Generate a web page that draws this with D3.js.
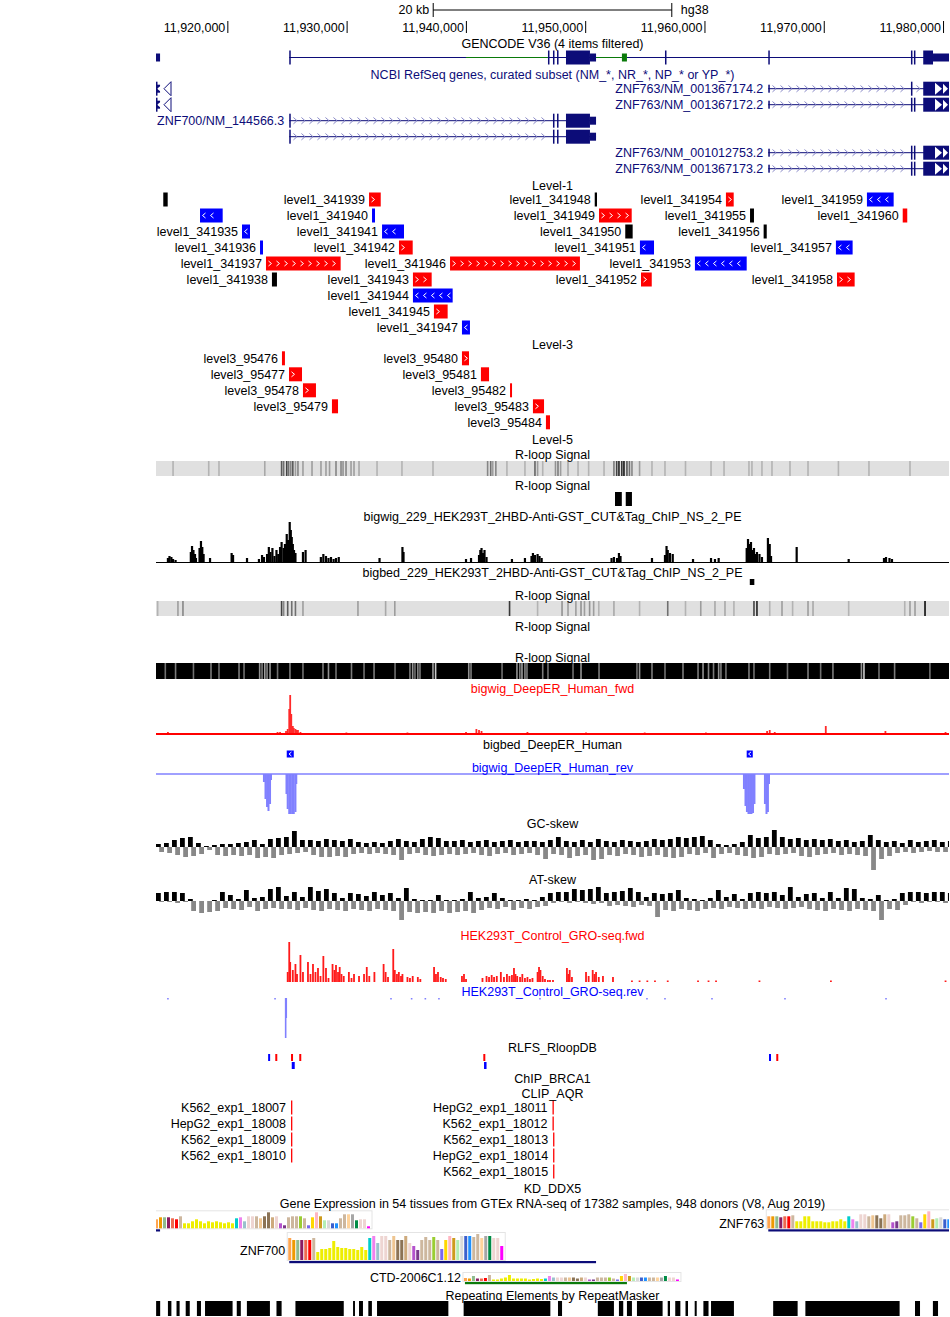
<!DOCTYPE html>
<html><head><meta charset="utf-8">
<script src="https://cdn.jsdelivr.net/npm/d3@7"></script>
<style>
body{margin:0;background:#fff}
text{font-family:"Liberation Sans",Arial,Helvetica,sans-serif;font-size:12.5px}
</style></head>
<body>
<script>
// ================= DATA (genomic positions in kb on chr19, hg38) =================
const windowKb = [11914.02, 11980.50];
const tickKb = [11920, 11930, 11940, 11950, 11960, 11970, 11980];
const scaleBarKb = 20;
const assembly = "hg38";

const trackTitles = [
 "GENCODE V36 (4 items filtered)",
 "NCBI RefSeq genes, curated subset (NM_*, NR_*, NP_* or YP_*)",
 "Level-1","Level-3","Level-5","R-loop Signal","R-loop Signal",
 "bigwig_229_HEK293T_2HBD-Anti-GST_CUT&Tag_ChIP_NS_2_PE",
 "bigbed_229_HEK293T_2HBD-Anti-GST_CUT&Tag_ChIP_NS_2_PE",
 "R-loop Signal","R-loop Signal","R-loop Signal",
 "bigwig_DeepER_Human_fwd","bigbed_DeepER_Human","bigwig_DeepER_Human_rev",
 "GC-skew","AT-skew","HEK293T_Control_GRO-seq.fwd","HEK293T_Control_GRO-seq.rev",
 "RLFS_RloopDB","ChIP_BRCA1","CLIP_AQR","KD_DDX5",
 "Gene Expression in 54 tissues from GTEx RNA-seq of 17382 samples, 948 donors (V8, Aug 2019)",
 "Repeating Elements by RepeatMasker"];
const trackTitleKind = ["black","navy","black","black","black","black","black","black","black","black","black","black",
 "red","black","blue","black","black","red","blue","black","black","black","black","black","black"];

// GENCODE (dense): intron segments and exon blocks
const gencodeLines = [[11925.19,11940.01,"coding"],[11940.01,11946.88,"noncoding"],[11946.88,11950.91,"coding"],
 [11950.91,11953.08,"noncoding"],[11953.50,11980.50,"coding"]];
const gencodeExons = [[11914.02,11914.36,"utr","coding"],[11925.19,11925.25,"cds","coding"],[11946.88,11946.94,"cds","coding"],
 [11947.30,11947.36,"cds","coding"],[11947.64,11947.70,"cds","coding"],[11948.39,11950.40,"cds","coding"],
 [11950.40,11950.91,"utr","coding"],[11953.08,11953.50,"utr","noncoding"],[11956.69,11956.75,"cds","coding"],
 [11965.35,11965.41,"cds","coding"],[11977.31,11977.37,"cds","coding"],[11977.56,11977.62,"cds","coding"],
 [11978.34,11979.16,"cds","coding"],[11979.16,11980.50,"utr","coding"]];

// RefSeq transcripts: name, lane, txStart, txEnd, exons
const refseqTx = [
 {name:"ZNF69/NM_021915.4", lane:0, txStart:11913.80, txEnd:11914.36, exons:[[11913.80,11914.36,"utr"]]},
 {name:"ZNF69/NM_001320016.2", lane:1, txStart:11913.80, txEnd:11914.36, exons:[[11913.80,11914.36,"utr"]]},
 {name:"ZNF763/NM_001367174.2", lane:0, txStart:11965.35, txEnd:11982.00, exons:[[11965.35,11965.41,"utr"],[11977.31,11977.37,"cds"],[11978.34,11982.00,"cds"]]},
 {name:"ZNF763/NM_001367172.2", lane:1, txStart:11965.35, txEnd:11982.00, exons:[[11965.35,11965.41,"utr"],[11977.31,11977.37,"cds"],[11977.56,11977.62,"cds"],[11978.34,11982.00,"cds"]]},
 {name:"ZNF700/NM_144566.3", lane:2, txStart:11925.19, txEnd:11950.91, exons:[[11925.19,11925.25,"cds"],[11947.30,11947.36,"cds"],[11947.64,11947.70,"cds"],[11948.39,11950.40,"cds"],[11950.40,11950.91,"utr"]]},
 {name:"ZNF700/NM_001271848.2", lane:3, txStart:11925.19, txEnd:11950.91, hideLabel:true, exons:[[11925.19,11925.25,"cds"],[11947.30,11947.36,"cds"],[11947.64,11947.70,"cds"],[11948.39,11950.40,"cds"],[11950.40,11950.91,"utr"]]},
 {name:"ZNF763/NM_001012753.2", lane:4, txStart:11965.35, txEnd:11982.00, exons:[[11965.35,11965.41,"utr"],[11977.31,11977.37,"cds"],[11977.56,11977.62,"cds"],[11978.34,11982.00,"cds"]]},
 {name:"ZNF763/NM_001367173.2", lane:5, txStart:11965.35, txEnd:11982.00, exons:[[11965.35,11965.41,"utr"],[11977.31,11977.37,"cds"],[11977.56,11977.62,"cds"],[11978.34,11982.00,"cds"]]}
];

// Level-1 items: name, start, end, strand, lane
const level1 = [
 ["level1_341933",11914.63,11915.00,".",0],["level1_341939",11931.88,11932.86,"+",0],["level1_341948",11950.80,11950.99,".",0],
 ["level1_341954",11961.80,11962.45,"+",0],["level1_341959",11973.62,11975.86,"-",0],
 ["level1_341934",11917.71,11919.61,"-",1],["level1_341940",11932.13,11932.38,"-",1],["level1_341949",11951.16,11953.90,"+",1],
 ["level1_341955",11963.82,11964.15,".",1],["level1_341960",11976.62,11977.00,"+",1],
 ["level1_341935",11921.23,11921.90,"-",2],["level1_341941",11932.97,11934.81,"-",2],["level1_341950",11953.36,11953.98,".",2],
 ["level1_341956",11964.96,11965.22,".",2],
 ["level1_341936",11922.74,11922.99,"-",3],["level1_341942",11934.39,11935.54,"+",3],["level1_341951",11954.59,11955.77,"-",3],
 ["level1_341957",11971.02,11972.42,"-",3],
 ["level1_341937",11923.24,11929.50,"+",4],["level1_341946",11938.67,11949.56,"+",4],["level1_341953",11959.20,11963.54,"-",4],
 ["level1_341938",11923.74,11924.16,".",5],["level1_341943",11935.56,11937.13,"+",5],["level1_341952",11954.68,11955.58,"+",5],
 ["level1_341958",11971.11,11972.59,"+",5],
 ["level1_341944",11935.56,11938.89,"-",6],["level1_341945",11937.32,11938.47,"+",7],["level1_341947",11939.67,11940.34,"-",8]];

// Level-3 items
const level3 = [
 ["level3_95476",11924.58,11924.83,".",0],["level3_95480",11939.67,11940.26,"+",0],
 ["level3_95477",11925.17,11926.26,"+",1],["level3_95481",11941.26,11941.94,".",1],
 ["level3_95478",11926.34,11927.43,"+",2],["level3_95482",11943.70,11943.86,".",2],
 ["level3_95479",11928.77,11929.28,".",3],["level3_95483",11945.62,11946.55,"+",3],
 ["level3_95484",11946.71,11947.05,".",4]];

// R-loop signal heatmaps: [position kb, signal 0..1]
const rloopHeat1 = [[11915.45,.2],[11918.44,.2],[11919.30,.2],[11923.14,.25],[11924.55,.6],[11924.72,.5],[11924.98,.7],[11925.14,.5],
 [11925.32,.4],[11925.49,.6],[11925.71,.3],[11925.92,.4],[11926.34,.3],[11927.10,.3],[11927.85,.3],[11928.27,.3],[11928.57,.3],
 [11929.11,.4],[11929.53,.4],[11929.70,.35],[11929.95,.4],[11930.37,.3],[11930.62,.3],[11931.04,.25],[11932.55,.2],[11934.64,.2],
 [11937.24,.2],[11941.82,.4],[11942.08,.5],[11942.25,.3],[11942.51,.4],[11943.44,.2],[11944.95,.2],[11945.79,.55],[11946.01,.3],
 [11946.44,.2],[11947.51,.35],[11947.72,.45],[11947.94,.3],[11948.56,.25],[11949.40,.2],[11950.29,.2],[11951.58,.2],[11952.41,.45],
 [11952.64,.7],[11952.83,.85],[11953.07,.75],[11953.25,.9],[11953.50,.6],[11953.71,.5],[11953.92,.4],[11954.56,.3],[11955.60,.2],
 [11956.69,.2],[11958.41,.2],[11960.55,.2],[11961.64,.2],[11963.73,.2],[11963.98,.2],[11964.82,.2],[11965.66,.2],[11967.17,.2],
 [11968.68,.2],[11971.23,.2],[11973.79,.2],[11977.23,.2]];
const rloopPeaks2 = [[11952.50,11953.07],[11953.40,11953.92]];
const rloopHeat2 = [[11914.16,.2],[11915.86,.3],[11916.28,.4],[11924.55,.7],[11924.72,.4],[11925.06,.6],[11925.40,.5],[11925.71,.5],
 [11926.34,.3],[11930.95,.3],[11933.27,.25],[11934.04,.3],[11943.66,.75],[11946.01,.2],[11948.06,.35],[11948.56,.3],[11949.22,.3],
 [11949.65,.35],[11949.94,.3],[11950.37,.35],[11950.71,.3],[11951.14,.2],[11952.41,.25],[11954.56,.2],[11956.92,.5],[11958.41,.2],
 [11959.69,.3],[11960.88,.25],[11961.72,.25],[11962.47,.2],[11964.15,.7],[11964.40,.85],[11965.47,.2],[11966.50,.3],[11967.39,.2],
 [11968.68,.3],[11969.10,.25],[11972.09,.2],[11976.79,.2],[11977.23,.3],[11977.65,.3],[11978.49,.95]];
const rloopHeat3 = [[11914.80,.5],[11915.66,.45],[11917.16,.5],[11918.63,.45],[11919.30,.5],[11920.98,.45],[11921.40,.5],[11922.71,.35],
 [11922.91,.45],[11923.14,.3],[11923.33,.4],[11923.58,.35],[11924.21,.5],[11925.25,.45],[11926.34,.5],[11928.02,.45],[11928.48,.35],
 [11929.11,.5],[11930.41,.45],[11931.46,.5],[11932.30,.45],[11934.06,.5],[11935.31,.45],[11935.54,.35],[11935.73,.5],[11935.97,.4],
 [11936.15,.45],[11937.24,.3],[11937.46,.1],[11940.24,.35],[11940.43,.45],[11943.03,.5],[11944.28,.35],[11944.52,.45],[11944.70,.3],
 [11944.95,.4],[11945.12,.45],[11946.44,.45],[11946.88,.5],[11948.98,.5],[11949.65,.35],[11951.16,.45],[11954.34,.5],[11954.56,.35],
 [11955.60,.45],[11956.69,.5],[11958.20,.45],[11959.46,.45],[11959.88,.35],[11960.34,.4],[11960.76,.45],[11961.19,.35],[11961.38,.45],
 [11961.80,.5],[11963.73,.45],[11964.15,.5],[11965.47,.45],[11966.96,.5],[11968.68,.45],[11969.74,.5],[11970.77,.45],[11973.16,.35],
 [11973.37,.1],[11974.63,.5],[11975.94,.45],[11978.90,.5]];

// bigwig_229 CUT&Tag signal [kb, value]
const cutTagSignal = [[11915.02,4],[11915.15,6],[11915.31,5],[11915.45,3],[11915.66,2],[11916.94,10],[11917.04,16],[11917.16,12],
 [11917.29,8],[11917.37,4],[11917.67,14],[11917.79,21],[11917.90,15],[11918.01,8],[11918.55,4],[11920.36,9],[11920.48,7],[11921.65,4],
 [11922.65,3],[11922.91,7],[11923.07,5],[11923.33,8],[11923.48,15],[11923.62,10],[11923.78,14],[11923.95,6],[11924.12,12],[11924.27,8],
 [11924.42,15],[11924.55,20],[11924.72,14],[11924.83,18],[11924.98,28],[11925.09,22],[11925.23,40],[11925.32,32],[11925.40,25],
 [11925.49,18],[11925.59,12],[11925.71,9],[11926.34,10],[11926.56,12],[11927.84,5],[11928.05,8],[11928.27,6],[11928.48,4],[11928.69,5],
 [11928.91,3],[11929.11,4],[11929.34,5],[11932.76,4],[11934.68,15],[11934.77,10],[11940.01,3],[11940.43,4],[11941.10,7],[11941.21,12],
 [11941.31,14],[11941.43,9],[11941.56,12],[11941.73,5],[11943.86,3],[11944.95,4],[11945.50,6],[11945.62,9],[11945.79,7],[11946.01,8],
 [11946.17,6],[11946.35,4],[11952.21,4],[11952.41,5],[11952.67,4],[11952.83,9],[11952.96,6],[11955.60,4],[11956.69,7],[11956.82,16],
 [11956.92,12],[11957.11,9],[11957.34,8],[11959.04,3],[11960.55,4],[11960.88,3],[11961.19,4],[11963.54,14],[11963.65,23],[11963.77,18],
 [11963.90,20],[11964.02,12],[11964.15,14],[11964.28,8],[11964.40,10],[11964.61,8],[11964.82,5],[11965.32,24],[11965.47,18],
 [11965.58,6],[11967.73,15],[11972.09,3],[11975.05,4],[11975.22,5],[11975.51,4],[11975.72,3]];
const cutTagPeaks = [[11963.80,11964.18]];

// DeepER
const deepErFwd = [[11915.02,2],[11919.93,1],[11924.21,2],[11924.42,2],[11924.92,3],[11925.06,5],[11925.19,25],[11925.27,39],
 [11925.36,20],[11925.49,8],[11925.57,6],[11925.71,5],[11925.82,4],[11925.92,4],[11926.13,2],[11929.98,1.5],[11935.10,1.5],
 [11940.01,2],[11940.88,5],[11941.10,4],[11941.31,3],[11945.16,2],[11950.07,1.5],[11954.99,1.5],[11960.12,1.5],[11965.25,3],
 [11965.47,4],[11965.89,2],[11970.17,8],[11975.17,3],[11980.21,2]];
const deepErBed = [[11924.98,11925.57,"-"],[11963.54,11964.05,"-"]];
const deepErRev = [[11923.07,8],[11923.20,25],[11923.33,33],[11923.45,37],[11923.58,30],[11923.66,6],[11924.96,20],[11925.06,35],
 [11925.19,40],[11925.32,40],[11925.45,40],[11925.57,40],[11925.71,38],[11925.78,10],[11963.31,15],[11963.44,32],[11963.56,38],
 [11963.69,40],[11963.82,40],[11963.94,40],[11964.07,39],[11964.19,30],[11965.07,30],[11965.20,40],[11965.32,38],[11965.41,10]];

// GC / AT skew, fixed step bins
const skewStartKb = 11914.02, skewStepKb = 0.6706;
const gcUp = [3,4,7,9,10,4,1,2,3,3, 4,5,7,3,8,9,10,16,7,7, 6,8,7,6,8,5,4,5,4,6, 8,6,5,8,10,9,6,6,7,5,
 6,7,5,6,7,5,6,6,5,7, 10,6,5,7,5,8,6,5,7,6, 5,6,8,7,8,10,9,10,11,7, 3,2,3,5,12,9,10,17,10,8,
 9,7,8,7,8,6,7,5,6,12, 7,5,6,4,7,5,6,7,5,6];
const gcDown = [5,6,8,10,9,7,3,8,9,8, 9,8,11,10,11,8,7,6,5,8, 10,10,9,10,7,6,7,6,7,8, 13,7,6,8,9,8,7,8,7,6,
 8,9,7,6,8,7,6,8,12,7, 8,11,9,8,13,12,8,9,7,8, 10,9,8,10,11,10,7,8,6,11, 7,6,8,9,11,10,7,8,7,6,
 9,10,8,7,6,8,7,8,9,23, 12,9,6,5,6,5,4,5,5,4];
const atUp = [8,9,9,8,2,0,0,1,9,6, 2,11,3,4,12,14,5,9,4,14, 10,12,8,3,8,7,5,9,6,8, 3,13,2,1,1,6,1,1,2,9,
 3,4,8,3,1,1,2,1,4,8, 9,9,12,11,12,14,8,9,10,13, 9,4,8,7,8,11,3,2,1,3, 11,4,7,2,8,9,8,9,6,14,
 4,7,8,3,9,3,13,12,3,2, 6,1,2,8,9,9,8,9,9,8];
const atDown = [1,1,2,1,10,12,11,10,7,8, 9,6,10,8,7,8,8,9,7,9, 10,8,9,10,8,9,10,8,9,10, 19,11,12,11,12,10,12,11,10,12,
 9,7,8,6,9,7,8,6,5,2, 1,2,1,2,3,2,5,4,5,6, 4,5,16,9,10,8,9,10,8,7, 8,6,7,8,7,8,6,7,8,7,
 6,8,9,10,8,9,10,8,9,10, 19,8,9,4,1,2,1,1,2,1];

// GRO-seq
const groFwd = [[11925.06,10],[11925.19,40],[11925.27,20],[11925.49,12],[11925.71,18],[11925.84,8],[11926.13,27],[11926.34,10],
 [11926.76,20],[11926.97,8],[11927.18,18],[11927.39,10],[11927.60,14],[11927.81,6],[11928.05,26],[11928.27,14],[11928.48,4],
 [11928.82,18],[11928.98,12],[11929.11,17],[11929.28,10],[11929.42,15],[11929.57,8],[11929.76,6],[11930.19,10],[11930.41,4],
 [11930.62,8],[11931.04,6],[11931.46,8],[11931.69,15],[11931.90,6],[11932.33,10],[11933.10,18],[11933.27,10],[11933.47,5],
 [11933.91,33],[11934.04,12],[11934.22,8],[11934.38,10],[11934.56,6],[11934.68,8],[11935.10,5],[11935.31,4],[11935.54,6],
 [11935.97,5],[11936.18,3],[11937.33,15],[11937.49,8],[11937.66,10],[11937.89,5],[11938.08,4],[11938.31,3],[11939.67,6],
 [11939.84,8],[11940.01,3],[11941.39,4],[11941.73,6],[11941.94,5],[11942.16,7],[11942.36,5],[11942.59,6],[11942.93,10],
 [11943.19,5],[11943.44,8],[11943.65,6],[11943.86,7],[11944.03,14],[11944.16,8],[11944.30,6],[11944.54,5],[11944.73,8],
 [11944.95,4],[11945.16,5],[11945.37,3],[11945.58,4],[11946.01,10],[11946.13,15],[11946.25,12],[11946.44,6],[11946.63,3],
 [11946.87,2],[11947.05,2],[11947.30,2],[11948.47,14],[11948.60,8],[11948.70,12],[11948.89,5],[11950.07,10],[11950.29,6],
 [11950.63,12],[11950.78,8],[11950.91,10],[11951.14,5],[11951.49,6],[11952.33,5],[11953.92,1.5],[11954.56,1.5],[11955.21,1.5],
 [11955.85,1.5],[11956.92,1.5],[11959.46,1.5],[11960.34,1.5],[11960.97,1.5],[11964.61,1.5],[11970.60,1.5],[11980.21,1.5]];
const groRev = [[11915.02,1.5],[11924.00,1.5],[11924.89,40],[11924.94,20],[11933.72,1.5],[11935.45,1.5],[11936.60,1.5],
 [11937.74,1.5],[11946.21,1.5],[11955.18,1.5],[11956.69,1.5],[11960.63,1.5],[11966.75,1.5],[11975.22,1.5]];

// RLFS (R-loop forming sequences): start, end, strand, lane
const rlfs = [[11923.42,11923.56,"-",0],[11924.02,11924.16,"+",0],[11925.34,11925.48,"+",0],[11926.03,11926.17,"+",0],
 [11941.46,11941.60,"+",0],[11965.41,11965.55,"-",0],[11966.02,11966.16,"+",0],
 [11925.40,11925.65,"-",1],[11941.52,11941.73,"-",1]];

// CLIP_AQR: name, start, end, lane
const clipAqr = [["K562_exp1_18007",11925.34,11925.37,0],["HepG2_exp1_18008",11925.34,11925.37,1],
 ["K562_exp1_18009",11925.34,11925.37,2],["K562_exp1_18010",11925.34,11925.37,3],
 ["HepG2_exp1_18011",11947.26,11947.29,0],["K562_exp1_18012",11947.26,11947.29,1],
 ["K562_exp1_18013",11947.31,11947.34,2],["HepG2_exp1_18014",11947.31,11947.34,3],["K562_exp1_18015",11947.31,11947.34,4]];

// GTEx
const gtexTissues = ["Adipose Subcutaneous","Adipose Visceral","Adrenal Gland","Artery Aorta","Artery Coronary","Artery Tibial","Bladder",
 "Brain Amygdala","Brain Anterior cingulate","Brain Caudate","Brain Cerebellar Hemisphere","Brain Cerebellum","Brain Cortex",
 "Brain Frontal Cortex","Brain Hippocampus","Brain Hypothalamus","Brain Nucleus accumbens","Brain Putamen","Brain Spinal cord",
 "Brain Substantia nigra","Breast","Cells EBV lymphocytes","Cells Fibroblasts","Cervix Ectocervix","Cervix Endocervix","Colon Sigmoid",
 "Colon Transverse","Esophagus GE Junction","Esophagus Mucosa","Esophagus Muscularis","Fallopian Tube","Heart Atrial Appendage",
 "Heart Left Ventricle","Kidney Cortex","Kidney Medulla","Liver","Lung","Minor Salivary Gland","Muscle Skeletal","Nerve Tibial","Ovary",
 "Pancreas","Pituitary","Prostate","Skin Not Sun Exposed","Skin Sun Exposed","Small Intestine","Spleen","Stomach","Testis","Thyroid",
 "Uterus","Vagina","Whole Blood"];
const gtexColors = ["#FFA54F","#EE9A00","#8FBC8F","#8B1C62","#EE6A50","#FF0000","#CDB79E",
 "#EEEE00","#EEEE00","#EEEE00","#EEEE00","#EEEE00","#EEEE00","#EEEE00","#EEEE00","#EEEE00","#EEEE00","#EEEE00","#EEEE00","#EEEE00",
 "#00CDCD","#EE82EE","#9AC0CD","#EED5D2","#EED5D2","#CDB79E","#EEC591","#8B7355","#8B7355","#CDAA7D","#EED5D2","#B452CD","#7A378B",
 "#CDB79E","#CDB79E","#CDB79E","#9ACD32","#CDB79E","#7A67EE","#FFD700","#FFB6C1","#CD9B1D","#B4EEB4","#D9D9D9","#3A5FCD","#1E90FF",
 "#CDB79E","#CDB79E","#FFD39B","#A6A6A6","#008B45","#EED5D2","#EED5D2","#FF00FF"];
const gtexZNF69 = [9,11,11,11,10,9,12, 5,5,7,9,7,5,7,6,7,6,5,6,5, 10,11,7, 12,12, 12,10,12,16,11,12, 5,3, 11,12,12, 12,10, 3,11,16,
 12,8,8, 5,5, 10,14,14,14, 8,9,9,2];
const gtexZNF700 = [22,20,20,20,20,20,22, 8,11,11,12,19,13,12,12,11,11,10,13,10, 22,24,17, 24,24, 20,24,20,20,24,17, 14,10, 20,23,20,
 23,20, 11,20,24, 22,20,24, 24,24, 23,26,22,24, 24,22,22,14];
const gtexZNF763 = [12,12,12,11,12,12,13, 7,7,12,12,7,7,7,6,6,7,7,9,7, 12,9,7, 14,14, 12,13,13,10,14,14, 6,7, 13,13,14, 12,10, 6,14,17,
 9,10,11, 9,9, 12,14,12,10, 11,12,12,4];
const gtexCTD = [3,2.5,5,2.5,2.5,3,6, 1.5,1.5,2.5,3.5,6,2.5,2.5,2.5,2.5,1.5,2,2.5,2, 2.5,5,3.5, 3.5,3.5, 3.5,3.5,3.5,2.5,3.5,3.5,
 1.5,1.5, 3.5,3.5,3.5, 3.5,2.5, 1.5,5,7, 5,3.5,3.5, 3.5,3.5, 3.5,3.5,3.5,3.5, 5,3.5,3.5,1.5];
const gtexGenes = [
 {name:"ZNF69", geneStart:11913.80, geneEnd:11914.36, type:"coding", values:gtexZNF69, lane:0, hideLabel:true},
 {name:"ZNF763", geneStart:11965.35, geneEnd:11982.00, type:"coding", values:gtexZNF763, lane:0},
 {name:"ZNF700", geneStart:11925.19, geneEnd:11950.91, type:"coding", values:gtexZNF700, lane:1},
 {name:"CTD-2006C1.12", geneStart:11939.92, geneEnd:11953.50, type:"noncoding", values:gtexCTD, lane:2}];

// RepeatMasker elements [start, end]
const repeats = [[11914.03,11914.37],[11915.02,11915.31],[11915.74,11916.00],[11916.51,11916.85],[11917.45,11917.79],
 [11918.13,11920.44],[11920.79,11921.13],[11921.64,11923.57],[11924.12,11924.55],[11925.71,11929.76],[11930.54,11930.70],
 [11931.04,11931.37],[11931.82,11932.12],[11932.55,11938.53],[11939.81,11947.08],[11947.72,11948.06],[11951.06,11952.41],
 [11952.83,11953.19],[11953.50,11953.92],[11954.34,11956.49],[11956.92,11957.11],[11957.55,11957.98],[11958.41,11958.62],
 [11959.18,11959.35],[11959.91,11960.34],[11960.55,11962.47],[11965.76,11967.81],[11968.46,11976.36],[11977.65,11978.07],
 [11979.15,11979.58]];

// ================= DRAWING =================
const W = 950, H = 1317, X0 = 156, X1 = 949, MID = (X0 + X1) / 2;
const COL = {black:"#000", navy:"#0c0c78", red:"#ff0000", blue:"#0000ff", green:"#0a7a0a",
 lightNavy:"#8a8ac8", revBlue:"#8080ff", gray:"#888888"};
const L = { // layout (pixels)
 rulerY:10, tickTop:21, tickBot:33, tickLabelY:27, gencodeY:57.5, refseqY0:88.7, rowH:16,
 level1Y0:199.5, level3Y0:358.3, heat1:[461,476], rloop2:[492,506], cutBase:562, cutBed:[579,585],
 heat2:[601,616], heat3:[663,679], erFwdBase:734, erBedY:754, erRevBase:774, gcZero:847, atZero:901,
 groFwdBase:982, groRevBase:998, rlfsY:[1054,1062], clipY0:1107.5, gtexBase:[1228.3,1260,1281], gtexLabelY:[1223,1250,1277],
 repY:[1301,1316],
 titleY:[43.5,74,185,344.5,439,454.5,485.5,516.5,572,595.5,626.5,657,688.5,744,767.5,823.5,879.5,935.5,991.5,
  1047.5,1078,1093.5,1188,1203.5,1295]};

const x = d3.scaleLinear().domain(windowKb).range([X0, X1]);
const svg = d3.select("body").append("svg").attr("width", W).attr("height", H);
svg.append("rect").attr("width", W).attr("height", H).attr("fill", "#fff");
svg.append("defs").append("clipPath").attr("id", "clipData")
  .append("rect").attr("x", X0).attr("y", 0).attr("width", X1 - X0).attr("height", H);
const plot = svg.append("g").attr("clip-path", "url(#clipData)");
const txt = svg.append("g");

function label(t, xx, yy, anchor, color) {
  return txt.append("text").attr("x", xx).attr("y", yy).attr("dy", "0.36em")
    .attr("text-anchor", anchor || "middle").attr("fill", color || "#000").text(t);
}
function itemLabel(t, xEnd, yy, color) {
  const el = label(t, xEnd, yy, "end", color);
  const w = el.node().getComputedTextLength();
  if (xEnd - w < 140) el.remove();
}
function chev(g, c, yc, strand, color, hw, hh) {
  if (strand !== "+" && strand !== "-") return;
  const d = strand === "+" ? `M${c-hw},${yc-hh}L${c+hw},${yc}L${c-hw},${yc+hh}`
                           : `M${c+hw},${yc-hh}L${c-hw},${yc}L${c+hw},${yc+hh}`;
  g.append("path").attr("d", d).attr("fill", "none").attr("stroke", color).attr("stroke-width", 1);
}
function bars(data, base, dir, color, w) {
  plot.append("g").selectAll("rect").data(data).join("rect")
    .attr("x", d => x(d[0]) - w / 2).attr("width", w)
    .attr("y", d => dir < 0 ? base - d[1] : base).attr("height", d => d[1]).attr("fill", color);
}

// ---- ruler ----
const sbW = x(windowKb[0] + scaleBarKb) - x(windowKb[0]);
const sbX = MID - sbW / 2;
svg.append("line").attr("x1", sbX).attr("x2", sbX + sbW).attr("y1", L.rulerY).attr("y2", L.rulerY).attr("stroke", "#000");
[sbX, sbX + sbW].forEach(v => svg.append("line").attr("x1", v).attr("x2", v).attr("y1", 3).attr("y2", 17).attr("stroke", "#000"));
label(scaleBarKb + " kb", sbX - 4, L.rulerY - 1, "end");
label(assembly, sbX + sbW + 9, L.rulerY - 1, "start");
const fmt = d3.format(",");
tickKb.forEach(t => {
  svg.append("line").attr("x1", x(t) + 0.5).attr("x2", x(t) + 0.5).attr("y1", L.tickTop).attr("y2", L.tickBot).attr("stroke", "#000");
  label(fmt(Math.round(t * 1000)), x(t) - 2, L.tickLabelY, "end");
});

// ---- titles ----
trackTitles.forEach((t, i) => label(t, MID, L.titleY[i], "middle", COL[trackTitleKind[i]]));

// ---- GENCODE ----
gencodeLines.forEach(s => plot.append("line").attr("x1", x(s[0])).attr("x2", x(s[1]))
  .attr("y1", L.gencodeY).attr("y2", L.gencodeY).attr("stroke", s[2] === "coding" ? COL.navy : COL.green).attr("stroke-width", 1));
gencodeExons.forEach(e => {
  const h = e[2] === "cds" ? 14 : 8, a = x(e[0]), b = Math.max(x(e[1]), a + 1.5);
  plot.append("rect").attr("x", a).attr("y", L.gencodeY - h / 2).attr("width", b - a).attr("height", h)
    .attr("fill", e[3] === "coding" ? COL.navy : COL.green);
});

// ---- RefSeq ----
refseqTx.forEach(tx => {
  const yc = L.refseqY0 + tx.lane * L.rowH;
  const xs = Math.max(x(tx.txStart), X0), xe = Math.min(x(tx.txEnd), X1 + 5);
  const g = plot.append("g");
  g.append("line").attr("x1", xs).attr("x2", xe).attr("y1", yc).attr("y2", yc).attr("stroke", COL.navy);
  const ex = tx.exons.map(e => [x(e[0]), Math.max(x(e[1]), x(e[0]) + 1.5)]);
  for (let c = xs + 6; c < xe - 4; c += 8) {
    if (ex.some(e => c > e[0] - 4 && c < e[1] + 4)) continue;
    chev(g, c, yc, "+", COL.lightNavy, 1.8, 3.2);
  }
  tx.exons.forEach((e, i) => {
    const h = e[2] === "cds" ? 14 : 8;
    g.append("rect").attr("x", ex[i][0]).attr("y", yc - h / 2).attr("width", ex[i][1] - ex[i][0]).attr("height", h).attr("fill", COL.navy);
  });
  if (x(tx.txStart) < X0) { // off-screen continuation arrows (left)
    g.append("path").attr("d", `M${X0+1},${yc}L${X0+6},${yc-4}L${X0+6},${yc+4}Z`).attr("fill", "#fff");
    g.append("path").attr("d", `M${X0+8},${yc}L${X0+15},${yc-7}L${X0+15},${yc+7}Z`).attr("fill", "#fff").attr("stroke", COL.navy);
    g.append("rect").attr("x", X0).attr("y", yc - 7).attr("width", 1.5).attr("height", 14).attr("fill", COL.navy);
  }
  if (x(tx.txEnd) > X1) { // off-screen continuation arrows (right)
    g.append("path").attr("d", `M${X1-14},${yc-6}L${X1-7},${yc}L${X1-14},${yc+6}Z`).attr("fill", "#fff");
    g.append("path").attr("d", `M${X1-6},${yc-5}L${X1-1},${yc}L${X1-6},${yc+5}Z`).attr("fill", "#fff");
  }
  if (!tx.hideLabel) itemLabel(tx.name, x(tx.txStart) - 5, yc, COL.navy);
});

// ---- Level tracks ----
function levelTrack(items, y0, colorFn) {
  const g = plot.append("g");
  items.forEach(d => {
    const yc = y0 + d[4] * L.rowH, a = x(d[1]), b = Math.max(x(d[2]), a + 2);
    g.append("rect").attr("x", a).attr("y", yc - 7).attr("width", b - a).attr("height", 14).attr("fill", colorFn(d));
    if (b - a >= 7) for (let c = a + 4; c <= b - 3; c += 8) chev(g, c, yc, d[3], "#fff", 1.5, 2.5);
    itemLabel(d[0], a - 4, yc, "#000");
  });
}
levelTrack(level1, L.level1Y0, d => d[3] === "+" ? COL.red : d[3] === "-" ? COL.blue : COL.black);
levelTrack(level3, L.level3Y0, d => COL.red);

// ---- heatmaps ----
const heatColor = d3.interpolateRgb("#e0e0e0", "#000000");
function heat(data, yr, bg) {
  plot.append("rect").attr("x", X0).attr("y", yr[0]).attr("width", X1 - X0).attr("height", yr[1] - yr[0]).attr("fill", bg);
  plot.append("g").selectAll("rect").data(data).join("rect")
    .attr("x", d => x(d[0]) - 0.8).attr("width", 1.6).attr("y", yr[0]).attr("height", yr[1] - yr[0])
    .attr("fill", d => heatColor(d[1]));
}
heat(rloopHeat1, L.heat1, "#e0e0e0");
plot.append("g").selectAll("rect").data(rloopPeaks2).join("rect")
  .attr("x", d => x(d[0])).attr("width", d => x(d[1]) - x(d[0])).attr("y", L.rloop2[0]).attr("height", L.rloop2[1] - L.rloop2[0]).attr("fill", "#000");
heat(rloopHeat2, L.heat2, "#e0e0e0");
heat(rloopHeat3, L.heat3, "#000");

// ---- CUT&Tag bigwig + bigbed ----
plot.append("line").attr("x1", X0).attr("x2", X1).attr("y1", L.cutBase + 0.5).attr("y2", L.cutBase + 0.5).attr("stroke", "#000");
bars(cutTagSignal, L.cutBase, -1, "#000", 2.2);
plot.append("g").selectAll("rect").data(cutTagPeaks).join("rect")
  .attr("x", d => x(d[0])).attr("width", d => x(d[1]) - x(d[0])).attr("y", L.cutBed[0]).attr("height", L.cutBed[1] - L.cutBed[0]).attr("fill", "#000");

// ---- DeepER ----
bars(deepErFwd, L.erFwdBase, -1, "#ff2a2a", 1.8);
plot.append("line").attr("x1", X0).attr("x2", X1).attr("y1", L.erFwdBase).attr("y2", L.erFwdBase).attr("stroke", COL.red).attr("stroke-width", 2);
deepErBed.forEach(d => {
  const a = x(d[0]), b = x(d[1]);
  plot.append("rect").attr("x", a).attr("y", L.erBedY - 3.5).attr("width", b - a).attr("height", 7).attr("fill", COL.blue);
  chev(plot, (a + b) / 2, L.erBedY, d[2], "#fff", 1.2, 2);
});
plot.append("line").attr("x1", X0).attr("x2", X1).attr("y1", L.erRevBase).attr("y2", L.erRevBase).attr("stroke", COL.revBlue).attr("stroke-width", 1.5);
bars(deepErRev, L.erRevBase, 1, COL.revBlue, 2);

// ---- skews (positive = black above, negative = gray below) ----
function skew(up, down, zero) {
  const bw = x(skewStartKb + skewStepKb) - x(skewStartKb);
  const g = plot.append("g");
  g.selectAll("rect.up").data(up).join("rect").attr("class", "up")
    .attr("x", (d, i) => x(skewStartKb + i * skewStepKb)).attr("width", bw * 0.6)
    .attr("y", d => zero - d).attr("height", d => d).attr("fill", "#000");
  g.selectAll("rect.dn").data(down).join("rect").attr("class", "dn")
    .attr("x", (d, i) => x(skewStartKb + i * skewStepKb) + bw * 0.4).attr("width", bw * 0.6)
    .attr("y", zero).attr("height", d => d).attr("fill", COL.gray);
}
skew(gcUp, gcDown, L.gcZero);
skew(atUp, atDown, L.atZero);

// ---- GRO-seq ----
bars(groFwd, L.groFwdBase, -1, "#ff1a1a", 1.8);
bars(groRev, L.groRevBase, 1, COL.revBlue, 1.6);

// ---- RLFS ----
plot.append("g").selectAll("rect").data(rlfs).join("rect")
  .attr("x", d => x(d[0])).attr("width", d => Math.max(x(d[1]) - x(d[0]), 2))
  .attr("y", d => L.rlfsY[d[3]]).attr("height", 7).attr("fill", d => d[2] === "+" ? COL.red : COL.blue);

// ---- CLIP_AQR ----
clipAqr.forEach(d => {
  const yc = L.clipY0 + d[3] * L.rowH, a = x(d[1]);
  plot.append("rect").attr("x", a).attr("y", yc - 7).attr("width", Math.max(x(d[2]) - a, 1.3)).attr("height", 14).attr("fill", COL.red);
  itemLabel(d[0], a - 5, yc, "#000");
});

// ---- GTEx ----
const barStep = 4, barW = 3;
const hScale = d3.scaleLinear().domain([0, 1]).range([0, 1]);
gtexGenes.forEach(gd => {
  const base = L.gtexBase[gd.lane];
  const gx = Math.max(x(gd.geneStart), X0) - 1;
  const maxV = d3.max(gd.values);
  const g = plot.append("g");
  g.append("rect").attr("x", gx - 1).attr("y", base - hScale(maxV) - 1.5).attr("width", gd.values.length * barStep + 2)
    .attr("height", hScale(maxV) + 2).attr("fill", "none").attr("stroke", "#e4e4e4").attr("stroke-width", 1);
  g.selectAll("rect.b").data(gd.values).join("rect").attr("class", "b")
    .attr("x", (d, i) => gx + i * barStep).attr("width", barW)
    .attr("y", d => base - hScale(d)).attr("height", d => hScale(d)).attr("fill", (d, i) => gtexColors[i]);
  const a = Math.max(x(gd.geneStart), X0), b = Math.min(x(gd.geneEnd), X1 + 2);
  g.append("rect").attr("x", a).attr("y", base + 1).attr("width", b - a).attr("height", 2.2)
    .attr("fill", gd.type === "coding" ? COL.navy : COL.green);
  if (!gd.hideLabel) itemLabel(gd.name, gx - 3, L.gtexLabelY[gd.lane], "#000");
});

// ---- RepeatMasker ----
plot.append("g").selectAll("rect").data(repeats).join("rect")
  .attr("x", d => x(d[0])).attr("width", d => Math.max(x(d[1]) - x(d[0]), 1.5))
  .attr("y", L.repY[0]).attr("height", L.repY[1] - L.repY[0]).attr("fill", "#000");
</script>
</body></html>
